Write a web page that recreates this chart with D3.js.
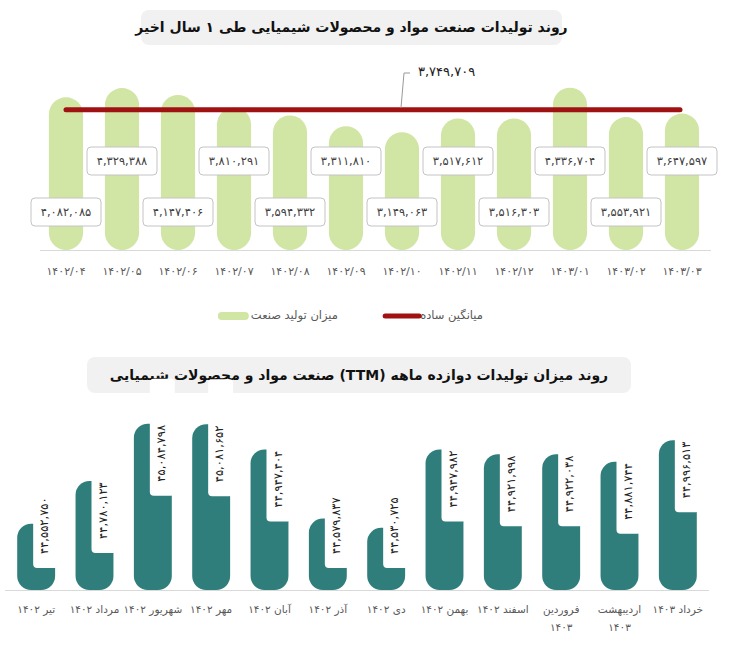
<!DOCTYPE html>
<html>
<head>
<meta charset="utf-8">
<script src="https://cdn.jsdelivr.net/npm/d3@7"></script>
<style>
  body { margin: 0; background: #fff; }
  svg { display: block; font-family: "DejaVu Sans", sans-serif; }
</style>
</head>
<body>
<div id="chart"></div>
<script>
// monthly production, last 12 months
var months = ["1402/04", "1402/05", "1402/06", "1402/07", "1402/08", "1402/09",
              "1402/10", "1402/11", "1402/12", "1403/01", "1403/02", "1403/03"];
var production = [4082085, 4329388, 4147406, 3810291, 3594332, 3311810,
                  3149063, 3517612, 3516303, 4336704, 3553921, 3647597];

// trailing twelve months
var ttmMonths = ["تیر ۱۴۰۲", "مرداد ۱۴۰۲", "شهریور ۱۴۰۲", "مهر ۱۴۰۲", "آبان ۱۴۰۲", "آذر ۱۴۰۲",
                 "دی ۱۴۰۲", "بهمن ۱۴۰۲", "اسفند ۱۴۰۲", "فروردین ۱۴۰۳", "اردیبهشت ۱۴۰۳", "خرداد ۱۴۰۳"];
var ttm = [44552750, 44780123, 45084798, 45081652, 44947404, 44579837,
           44530725, 44947982, 44921998, 44922038, 44881744, 44996513];

var titleTop = "روند تولیدات صنعت مواد و محصولات شیمیایی طی ۱ سال اخیر";
var titleBottom = "روند میزان تولیدات دوازده ماهه (TTM) صنعت مواد و محصولات شیمیایی";
var legendLabels = ["میزان تولید صنعت", "میانگین ساده"];

var svgWidth = 732;
var svgHeight = 654;

var green = "#d1e5a4";
var red = "#a01212";
var teal = "#2f7e7c";

// latin digits -> persian digits
var faDigits = "۰۱۲۳۴۵۶۷۸۹";
function toFa(s) {
    return String(s).replace(/[0-9]/g, d => faDigits[+d]);
}
var fmt = d3.format(",");

var svg = d3.select("#chart")
    .append("svg")
    .attr("width", svgWidth)
    .attr("height", svgHeight);

svg.append("rect")
    .attr("width", svgWidth)
    .attr("height", svgHeight)
    .attr("fill", "#fff");

//title boxes
function titleBox(x0, x1, y0, y1, text) {
    svg.append("rect")
        .attr("x", x0).attr("y", y0)
        .attr("width", x1 - x0).attr("height", y1 - y0)
        .attr("rx", 8)
        .attr("fill", "#f1f1f1");
    svg.append("text")
        .attr("x", (x0 + x1) / 2)
        .attr("y", (y0 + y1) / 2)
        .attr("dy", "0.35em")
        .attr("text-anchor", "middle")
        .attr("direction", "rtl")
        .attr("font-size", 14)
        .attr("font-weight", "bold")
        .attr("fill", "#111")
        .text(text);
}
titleBox(141, 562, 10, 45, titleTop);
titleBox(87, 631, 357, 393, titleBottom);

//////////////////////////////////////////////////////
// Top chart: monthly production
var topBase = 250;
var x1 = d3.scaleBand()
    .domain(months)
    .range([38, 710])
    .paddingInner(0.39)
    .paddingOuter(0.195);

var y1 = d3.scaleLinear()
    .domain([0, 5000000])
    .range([topBase, topBase - 187]);

var topGroup = svg.append("g");

// baseline
topGroup.append("line")
    .attr("x1", 40).attr("x2", 711)
    .attr("y1", topBase + 0.5).attr("y2", topBase + 0.5)
    .attr("stroke", "#d9d9d9");

// pill shaped bars
topGroup.selectAll("rect.bar")
    .data(production)
    .enter()
    .append("rect")
    .attr("class", "bar")
    .attr("x", (d, i) => x1(months[i]))
    .attr("y", d => y1(d))
    .attr("width", x1.bandwidth())
    .attr("height", d => y1(0) - y1(d))
    .attr("rx", x1.bandwidth() / 2)
    .attr("fill", green);

// average line
var avg = Math.round(d3.mean(production));
var cx0 = x1(months[0]) + x1.bandwidth() / 2;
var cx1 = x1(months[months.length - 1]) + x1.bandwidth() / 2;
topGroup.append("line")
    .attr("x1", cx0).attr("x2", cx1 - 2)
    .attr("y1", y1(avg)).attr("y2", y1(avg))
    .attr("stroke", red)
    .attr("stroke-width", 5)
    .attr("stroke-linecap", "round");

// average callout
topGroup.append("path")
    .attr("d", `M410,73 L404,73 L401,${y1(avg) - 2}`)
    .attr("fill", "none")
    .attr("stroke", "#999")
    .attr("stroke-width", 1);
topGroup.append("text")
    .attr("x", 418)
    .attr("y", 71)
    .attr("dy", "0.35em")
    .attr("font-size", 13)
    .attr("fill", "#222")
    .attr("direction", "ltr")
    .text(toFa(fmt(avg)));

// value labels (alternating low / high)
var labelGroups = topGroup.selectAll("g.vlabel")
    .data(production)
    .enter()
    .append("g")
    .attr("class", "vlabel")
    .attr("transform", (d, i) => `translate(${x1(months[i]) + x1.bandwidth() / 2}, ${i % 2 === 0 ? 212 : 161})`);

labelGroups.append("rect")
    .attr("x", -35).attr("y", -14)
    .attr("width", 70).attr("height", 28)
    .attr("rx", 4)
    .attr("fill", "#fff")
    .attr("stroke", "#c4c4c4");

labelGroups.append("text")
    .attr("text-anchor", "middle")
    .attr("dy", "0.35em")
    .attr("font-size", 11.5)
    .attr("fill", "#404040")
    .attr("direction", "ltr")
    .text(d => toFa(fmt(d)));

// x axis labels
topGroup.selectAll("text.xlab")
    .data(months)
    .enter()
    .append("text")
    .attr("class", "xlab")
    .attr("x", d => x1(d) + x1.bandwidth() / 2)
    .attr("y", 271)
    .attr("dy", "0.35em")
    .attr("text-anchor", "middle")
    .attr("direction", "ltr")
    .attr("font-size", 11)
    .attr("fill", "#595959")
    .text(d => toFa(d));

// legend
var legend = svg.append("g");
var lg1 = legend.append("text")
    .attr("x", 338).attr("y", 315)
    .attr("dy", "0.35em")
    .attr("direction", "rtl")
    .attr("text-anchor", "start")
    .attr("font-size", 11.5)
    .attr("fill", "#595959")
    .text(legendLabels[0]);
var b1 = lg1.node().getBBox();
legend.append("rect")
    .attr("x", b1.x - 33).attr("y", 312)
    .attr("width", 31).attr("height", 8)
    .attr("rx", 4)
    .attr("fill", green);

var lg2 = legend.append("text")
    .attr("x", 483).attr("y", 315)
    .attr("dy", "0.35em")
    .attr("direction", "rtl")
    .attr("text-anchor", "start")
    .attr("font-size", 11.5)
    .attr("fill", "#595959")
    .text(legendLabels[1]);
var b2 = lg2.node().getBBox();
legend.append("line")
    .attr("x1", b2.x - 35).attr("x2", b2.x - 1)
    .attr("y1", 316).attr("y2", 316)
    .attr("stroke", red)
    .attr("stroke-width", 5)
    .attr("stroke-linecap", "round");

//////////////////////////////////////////////////////
// Bottom chart: TTM
var botBase = 590;
var x2 = d3.scaleBand()
    .domain(ttmMonths)
    .range([7, 707])
    .paddingInner(0.35)
    .paddingOuter(0.175);

var y2 = d3.scaleLinear()
    .domain([44200000, 45200000])
    .range([botBase, botBase - 188]);

var botGroup = svg.append("g");

botGroup.append("line")
    .attr("x1", 5).attr("x2", 709)
    .attr("y1", botBase + 0.5).attr("y2", botBase + 0.5)
    .attr("stroke", "#d9d9d9");

botGroup.selectAll("rect.bar")
    .data(ttm)
    .enter()
    .append("rect")
    .attr("class", "bar")
    .attr("x", (d, i) => x2(ttmMonths[i]))
    .attr("y", d => y2(d))
    .attr("width", x2.bandwidth())
    .attr("height", d => y2.range()[0] - y2(d))
    .attr("rx", 14)
    .attr("fill", teal);

// white label boxes cut into the bar top
function notchBottom(d) {
    return Math.min(y2(d) + 72, botBase - 22);
}
botGroup.selectAll("rect.notch")
    .data(ttm)
    .enter()
    .append("rect")
    .attr("class", "notch")
    .attr("x", (d, i) => x2(ttmMonths[i]) + x2.bandwidth() / 2 - 3)
    .attr("y", d => y2(d) - 45)
    .attr("width", x2.bandwidth() / 2 + 6)
    .attr("height", d => notchBottom(d) - y2(d) + 45)
    .attr("rx", 4)
    .attr("fill", "#fff");

botGroup.selectAll("text.vlabel")
    .data(ttm)
    .enter()
    .append("text")
    .attr("class", "vlabel")
    .attr("transform", (d, i) => `translate(${x2(ttmMonths[i]) + x2.bandwidth() / 2 + 8}, ${notchBottom(d) - 14}) rotate(-90)`)
    .attr("dy", "0.35em")
    .attr("text-anchor", "start")
    .attr("direction", "ltr")
    .attr("font-size", 11.5)
    .attr("fill", "#222")
    .text(d => toFa(fmt(d)));

// x labels, long ones wrap onto a second line
var xl = botGroup.selectAll("text.xlab")
    .data(ttmMonths)
    .enter()
    .append("text")
    .attr("class", "xlab")
    .attr("x", d => x2(d) + x2.bandwidth() / 2)
    .attr("y", 609)
    .attr("dy", "0.35em")
    .attr("text-anchor", "middle")
    .attr("direction", "rtl")
    .attr("font-size", 10.5)
    .attr("fill", "#595959")
    .text(d => d);

xl.each(function(d) {
    if (this.getComputedTextLength() > 60) {
        var t = d3.select(this);
        var words = d.split(" ");
        var cx = t.attr("x");
        t.text(null).attr("dy", null);
        t.append("tspan").attr("x", cx).attr("dy", "0.35em").text(words.slice(0, -1).join(" "));
        t.append("tspan").attr("x", cx).attr("dy", "1.75em").text(words[words.length - 1]);
    }
});
</script>
</body>
</html>
